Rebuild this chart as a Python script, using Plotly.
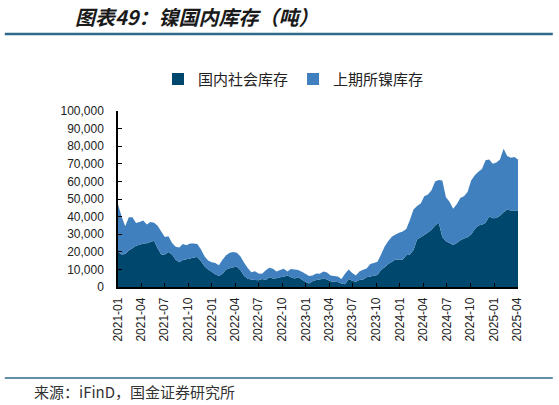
import pandas as pd
import plotly.graph_objects as go

# 周度数据（双周取样），单位：吨
dates = pd.date_range("2021-01-01", periods=112, freq="14D")

domestic = [  # 国内社会库存
    20000, 18500, 18800, 20700, 22000, 23500, 24000, 24700, 24800, 25600,
    26300, 22000, 18500, 18500, 19900, 18500, 15500, 14000, 15300, 15800,
    16200, 16800, 17100, 14800, 11800, 10000, 8600, 7200, 6200, 7500,
    10000, 10600, 11200, 11500, 9500, 6200, 4700, 4200, 4000, 3800,
    4500, 4000, 5500, 4800, 5000, 5500, 5800, 6500, 5500, 4900,
    5600, 4200, 3000, 2000, 3200, 4000, 4300, 4800, 4200, 3300,
    3000, 2800, 2000, 1500, 4500, 3500, 3000, 4000, 4300, 5500,
    5900, 6400, 6800, 9600, 11200, 13000, 14300, 15600, 15500, 15500,
    18000, 18500, 21000, 27000, 28200, 29500, 31000, 32500, 35000, 36500,
    28400, 26000, 25000, 23800, 25000, 26600, 27500, 28300, 29800, 33000,
    35000, 35300, 36500, 40000, 39000, 39200, 40500, 42500, 44000, 43500,
    43500, 43500,
]

shfe = [  # 上期所镍库存
    27000, 21500, 15700, 19000, 17700, 12800, 13000, 13100, 10700, 11300,
    10200, 12800, 13000, 9900, 8900, 6500, 7300, 8500, 9200, 7900,
    8500, 7900, 7400, 6700, 5700, 5000, 5400, 6400, 6200, 8000,
    8000, 8900, 8700, 8000, 7800, 7600, 6100, 4200, 5000, 3900,
    3000, 5500, 5400, 5600, 3800, 4100, 4500, 2300, 4700, 5100,
    4000, 4400, 4500, 4200, 3300, 3700, 3200, 4000, 4000, 3200,
    3300, 3200, 2500, 6000, 5500, 4500, 3500, 4800, 5500, 5000,
    7100, 7200, 7500, 8900, 11800, 13200, 14200, 14200, 15300, 16000,
    15000, 19500, 23000, 19000, 19300, 22000, 21500, 22500, 25000, 24300,
    32100, 25000, 23500, 20700, 22000, 23900, 24000, 25700, 30700, 30500,
    30500, 31700, 35500, 32500, 31000, 31600, 32000, 36000, 30500, 30000,
    30300, 29000,
]

names = ["国内社会库存", "上期所镍库存"]
colors = ["#00476E", "#4180BE"]

fig = go.Figure()

for name, vals, c in zip(names, [domestic, shfe], colors):
    fig.add_trace(go.Scatter(
        x=dates, y=vals, name=name, mode="none",
        stackgroup="one", fillcolor=c, showlegend=False,
    ))
    # 图例用方块
    fig.add_trace(go.Scatter(
        x=[None], y=[None], name=name, mode="markers",
        marker=dict(symbol="square", size=12, color=c),
    ))

cjk = "Noto Sans CJK SC"
line_c = "#2E6A8A"

fig.update_layout(
    width=559, height=405,
    margin=dict(l=118, r=41, t=111, b=118),
    paper_bgcolor="white", plot_bgcolor="white",
    font=dict(family="Liberation Sans, Arial, " + cjk, size=12, color="#222"),
    title=dict(
        text="<b><i>图表49：镍国内库存（吨）</i></b>",
        x=75 / 559, xanchor="left", xref="container",
        y=1 - 18 / 405, yanchor="middle", yref="container",
        font=dict(family=cjk, size=20, color="#1a1a1a"),
    ),
    legend=dict(
        orientation="h", x=0.1, xanchor="left", y=1.18, yanchor="middle",
        font=dict(family=cjk, size=15, color="#222"),
        itemwidth=30, traceorder="normal",
    ),
    showlegend=True,
    shapes=[
        dict(type="line", xref="paper", yref="paper", x0=-0.283, x1=1.087,
             y0=1.4375, y1=1.4375, line=dict(color=line_c, width=2.5)),
        dict(type="line", xref="paper", yref="paper", x0=-0.283, x1=1.087,
             y0=-0.517, y1=-0.517, line=dict(color=line_c, width=1.5)),
    ],
    annotations=[
        dict(text="来源：iFinD，国金证券研究所", xref="paper", yref="paper",
             x=-0.216, y=-0.591, xanchor="left", yanchor="middle",
             showarrow=False, font=dict(family=cjk, size=15, color="#333")),
    ],
)

fig.update_xaxes(
    range=[dates[0], dates[-1]], tickformat="%Y-%m", dtick="M3",
    tick0="2021-01-01", tickangle=-90, ticks="inside", ticklen=4,
    tickcolor="black", showline=True, linecolor="black", linewidth=1.5,
    showgrid=False, zeroline=False, ticklabelstandoff=4,
)
fig.update_yaxes(
    range=[0, 100000], dtick=10000, tickformat=",d", ticks="inside",
    ticklen=4, tickcolor="black", showline=True, linecolor="black",
    linewidth=1.5, showgrid=False, zeroline=False, ticklabelstandoff=10,
)

# 去掉页面默认边距，让图正好铺满窗口；不显示工具栏
fig.write_html(
    "out.html",
    config={"displayModeBar": False},
    post_script="document.body.style.margin='0';",
)
